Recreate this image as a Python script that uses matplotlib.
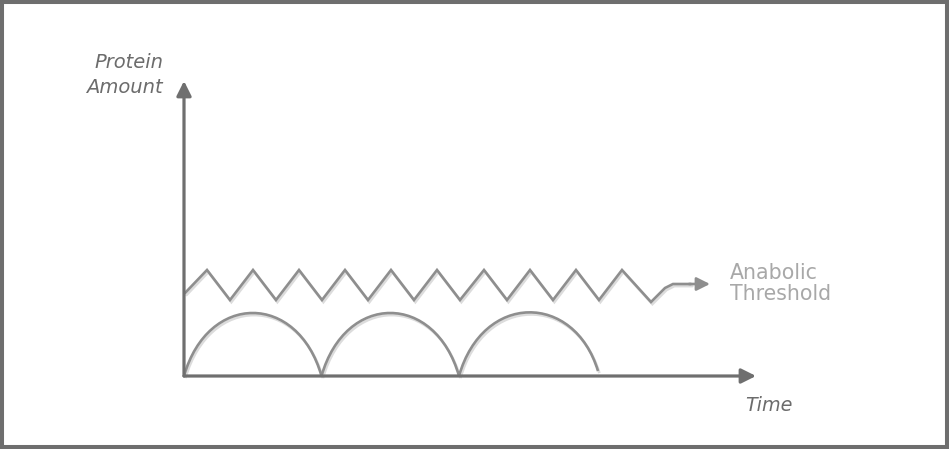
import numpy as np
import matplotlib.pyplot as plt
import matplotlib.patheffects as pe
from matplotlib.path import Path
from matplotlib.patches import PathPatch, FancyArrowPatch, Rectangle

# Schematic: protein level over time. Units are arbitrary.
# Frequent small feedings: zigzag vertices just above the threshold
zig_x = [1, 23, 46, 69, 92, 115, 138, 161, 184, 207, 230, 253, 276, 300,
         323, 346, 369, 392, 415, 438, 467, 481, 489, 507]
zig_y = [83, 106, 76, 106, 76, 106, 76, 106, 76, 106, 76, 106, 76, 106,
         76, 106, 76, 106, 76, 106, 74, 88, 92, 92]
zig_arrow_end = 526

# Large infrequent meals: arches (start, end, peak height, end height)
arch_start = [0, 137.5, 275]
arch_end = [137.5, 275, 414]
arch_peak = [63, 63, 63]
arch_end_y = [0, 0, 5]

x_max = 572
y_max = 295

line_col = "#8e8e8e"
axis_col = "#6f6f6f"
shadow = [pe.SimpleLineShadow(offset=(1.0, -1.5), shadow_color="#dcdcdc", alpha=1.0),
          pe.Normal()]

fig = plt.figure(figsize=(9.49, 4.49), dpi=100)
W, H = 949, 449
ax = fig.add_axes([184 / W, (H - 376) / H, x_max / W, y_max / H])
ax.set_xlim(0, x_max)
ax.set_ylim(0, y_max)
ax.axis("off")

# axes with arrow heads
for tip in [(x_max, 0), (0, y_max)]:
    ax.add_patch(FancyArrowPatch((0, 0), tip, arrowstyle="-|>", mutation_scale=22,
                                 color=axis_col, lw=2.3, shrinkA=0, shrinkB=0,
                                 clip_on=False, zorder=3))

# zigzag around the threshold
ax.plot(zig_x, zig_y, color=line_col, lw=1.9, solid_joinstyle="miter",
        solid_capstyle="round", clip_on=False, path_effects=shadow, zorder=2)
ax.add_patch(FancyArrowPatch((zig_x[-1] - 2, zig_y[-1]), (zig_arrow_end, zig_y[-1]),
                             arrowstyle="-|>", mutation_scale=20, color=line_col,
                             lw=1.9, shrinkA=0, shrinkB=0, clip_on=False, zorder=2))

# arches drawn as cubic Bezier curves
k = 24
for x0, x1, h, ye in zip(arch_start, arch_end, arch_peak, arch_end_y):
    verts = [(x0, 0), (x0 + k, h * 4 / 3), (x1 - k, h * 4 / 3), (x1, ye)]
    codes = [Path.MOVETO, Path.CURVE4, Path.CURVE4, Path.CURVE4]
    ax.add_patch(PathPatch(Path(verts, codes), fill=False, edgecolor=line_col, lw=1.9,
                           clip_on=False, path_effects=shadow, zorder=2))

# labels
fam = "DejaVu Sans"
ax.text(-21, 308, "Protein", ha="right", va="baseline", fontsize=14, style="italic",
        color="#6c6c6c", family=fam)
ax.text(-21, 283, "Amount", ha="right", va="baseline", fontsize=14, style="italic",
        color="#6c6c6c", family=fam)
ax.text(546, 97, "Anabolic", ha="left", va="baseline", fontsize=14.8,
        color="#a8a8a8", family=fam)
ax.text(546, 76, "Threshold", ha="left", va="baseline", fontsize=14.8,
        color="#a8a8a8", family=fam)
ax.text(561, -35, "Time", ha="left", va="baseline", fontsize=13.8, style="italic",
        color="#6c6c6c", family=fam)

# grey frame around the picture
fig.patches.append(Rectangle((0, 0), 1, 1, transform=fig.transFigure, fill=False,
                             edgecolor="#6e6e6e", lw=5.8))

fig.savefig("out.png", dpi=100)
